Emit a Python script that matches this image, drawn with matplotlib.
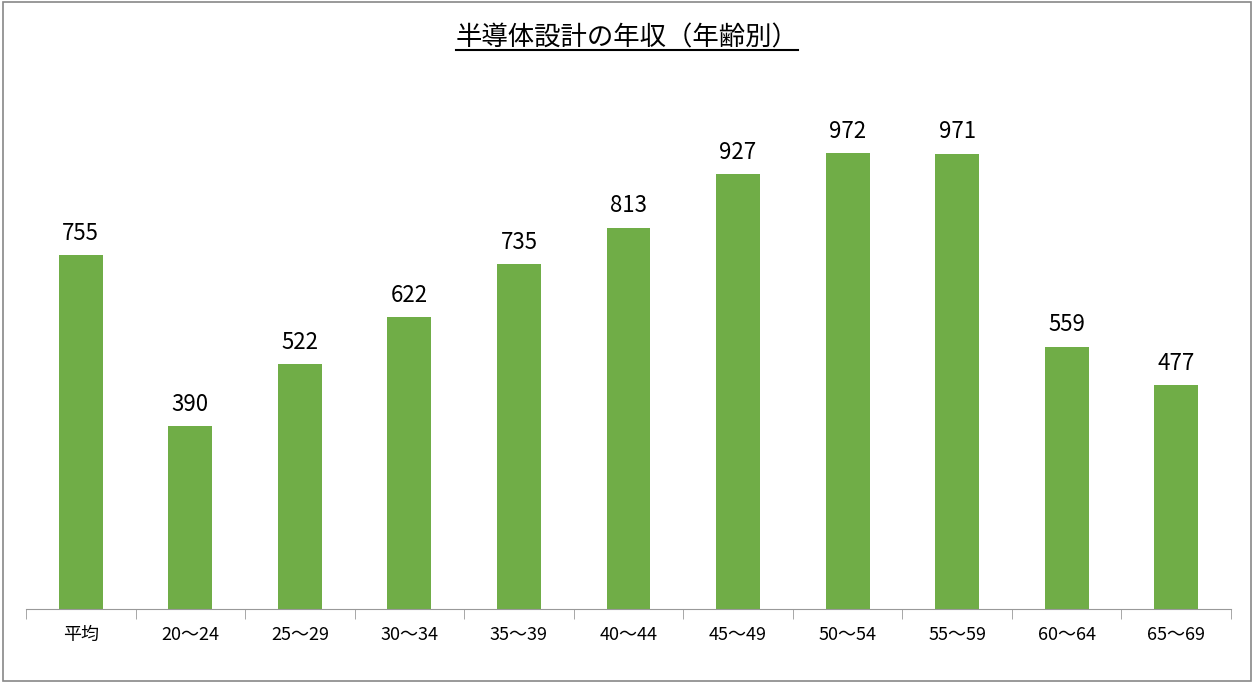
import matplotlib.pyplot as plt
from matplotlib.lines import Line2D
from matplotlib.patches import Rectangle
import numpy as np

plt.rcParams['font.family'] = ['Noto Sans CJK JP', 'DejaVu Sans']

categories = ['平均', '20〜24', '25〜29', '30〜34', '35〜39', '40〜44',
              '45〜49', '50〜54', '55〜59', '60〜64', '65〜69']
values = [755, 390, 522, 622, 735, 813, 927, 972, 971, 559, 477]
title = '半導体設計の年収（年齢別）'

fig = plt.figure(figsize=(12.54, 6.83), dpi=100)
ax = fig.add_axes([0.0207, 0.1083, 0.961, 0.7555])

x = np.arange(len(categories))
bars = ax.bar(x, values, width=0.4, color='#70ad47')
for xi, v in zip(x, values):
    ax.text(xi, v + 22, str(v), ha='center', va='bottom', fontsize=16)

ax.set_xlim(-0.5, len(categories) - 0.5)
ax.set_ylim(0, 1100)
ax.set_yticks([])
ax.set_xticks(x)
ax.set_xticklabels(categories, fontsize=13)
ax.tick_params(axis='x', which='major', length=0, pad=12)
ax.set_xticks(np.arange(-0.5, len(categories), 1), minor=True)
ax.tick_params(axis='x', which='minor', length=7, color='#999999')
for s in ['top', 'right', 'left']:
    ax.spines[s].set_visible(False)
ax.spines['bottom'].set_color('#999999')

t = fig.text(0.5, 0.925, title, ha='center', va='bottom', fontsize=19)
fig.canvas.draw()
bb = t.get_window_extent().transformed(fig.transFigure.inverted())
fig.add_artist(Line2D([bb.x0, bb.x1], [bb.y0 + 0.002, bb.y0 + 0.002],
                      color='black', lw=1.5, transform=fig.transFigure))

fig.add_artist(Rectangle((0.002, 0.003), 0.996, 0.994, fill=False,
                         edgecolor='#888888', lw=1.2, transform=fig.transFigure))

fig.savefig('out.png')
